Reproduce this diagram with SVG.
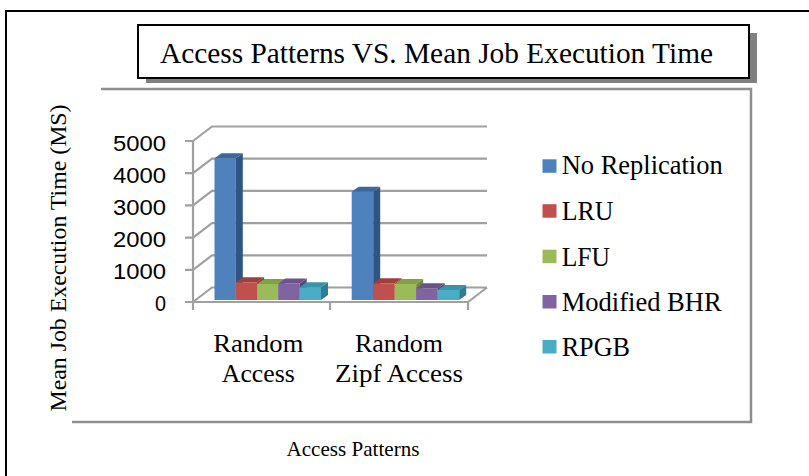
<svg xmlns="http://www.w3.org/2000/svg" width="809" height="476" viewBox="0 0 809 476">
<style>
.serif{font-family:"Liberation Serif","Times New Roman",serif;fill:#000}
.sans{font-family:"Liberation Sans",Arial,sans-serif;fill:#000}
.grid{stroke:#a0a0a0;stroke-width:2.2;fill:none}
.plot{stroke:#8e8e8e;stroke-width:2.5;fill:none}
</style>
<rect x="0" y="0" width="809" height="476" fill="#fff"/>
<g id="frame"><rect x="6" y="11" width="830" height="490" fill="#fff" stroke="#000" stroke-width="2"/></g>
<g id="title">
<rect x="146" y="33" width="611" height="50" fill="#808080"/>
<rect x="138" y="25" width="611" height="53" fill="#fff" stroke="#000" stroke-width="2"/>
<text class="serif" x="160" y="63" font-size="29" textLength="553" lengthAdjust="spacingAndGlyphs">Access Patterns VS. Mean Job Execution Time</text>
</g>
<g id="plot-area"><polyline class="plot" points="101,89 751,89 751,422 72,422"/></g>
<g id="y-axis-title"><text class="serif" transform="translate(66,258) rotate(-90)" text-anchor="middle" font-size="24" textLength="307" lengthAdjust="spacingAndGlyphs">Mean Job Execution Time (MS)</text></g>
<g id="axes">
<polyline class="grid" points="193,141 193,310"/>
<path class="grid" d="M185,141H193L212,126.5H487 M185,173.2H193L212,158.7H487 M185,205.4H193L212,190.9H487 M185,237.6H193L212,223.1H487 M185,269.8H193L212,255.3H487 M185,302H193L212,287.5H487 M193,302H468L487,287.5 M330,302V310 M468,302V310"/>
</g>
<g id="y-labels" class="sans" font-size="22.5" text-anchor="end">
<text x="166" y="150.5" textLength="53" lengthAdjust="spacingAndGlyphs">5000</text>
<text x="166" y="182.5" textLength="53" lengthAdjust="spacingAndGlyphs">4000</text>
<text x="166" y="214.5" textLength="53" lengthAdjust="spacingAndGlyphs">3000</text>
<text x="166" y="246.5" textLength="53" lengthAdjust="spacingAndGlyphs">2000</text>
<text x="166" y="278.5" textLength="53" lengthAdjust="spacingAndGlyphs">1000</text>
<text x="166" y="310.5" textLength="11" lengthAdjust="spacingAndGlyphs">0</text>
</g>
<g id="bars">
<g id="g1-norep"><rect x="214.5" y="158.3" width="21.3" height="141.7" fill="#4F81BD"/><polygon points="235.8,158.3 242.8,153.3 242.8,295 235.8,300" fill="#2F5584"/><polygon points="214.5,158.3 221.5,153.3 242.8,153.3 235.8,158.3" fill="#3C679C"/></g>
<g id="g1-lru"><rect x="235.8" y="282.3" width="21.3" height="17.7" fill="#C0504D"/><polygon points="257.1,282.3 264.1,277.3 264.1,295 257.1,300" fill="#8C3533"/><polygon points="235.8,282.3 242.8,277.3 264.1,277.3 257.1,282.3" fill="#A03E3B"/></g>
<g id="g1-lfu"><rect x="257.1" y="284" width="21.3" height="16" fill="#9BBB59"/><polygon points="278.4,284 285.4,279 285.4,295 278.4,300" fill="#708A3D"/><polygon points="257.1,284 264.1,279 285.4,279 278.4,284" fill="#82A047"/></g>
<g id="g1-bhr"><rect x="278.4" y="283.5" width="21.3" height="16.5" fill="#8064A2"/><polygon points="299.7,283.5 306.7,278.5 306.7,295 299.7,300" fill="#5B4676"/><polygon points="278.4,283.5 285.4,278.5 306.7,278.5 299.7,283.5" fill="#6A528A"/></g>
<g id="g1-rpgb"><rect x="299.7" y="287.3" width="21.3" height="12.7" fill="#4BACC6"/><polygon points="321,287.3 328,282.3 328,295 321,300" fill="#2E7E93"/><polygon points="299.7,287.3 306.7,282.3 328,282.3 321,287.3" fill="#3B93AA"/></g>
<g id="g2-norep"><rect x="351.7" y="191.7" width="21.5" height="108.3" fill="#4F81BD"/><polygon points="373.2,191.7 380.2,186.7 380.2,295 373.2,300" fill="#2F5584"/><polygon points="351.7,191.7 358.7,186.7 380.2,186.7 373.2,191.7" fill="#3C679C"/></g>
<g id="g2-lru"><rect x="373.2" y="283.3" width="21.5" height="16.7" fill="#C0504D"/><polygon points="394.7,283.3 401.7,278.3 401.7,295 394.7,300" fill="#8C3533"/><polygon points="373.2,283.3 380.2,278.3 401.7,278.3 394.7,283.3" fill="#A03E3B"/></g>
<g id="g2-lfu"><rect x="394.7" y="284" width="21.5" height="16" fill="#9BBB59"/><polygon points="416.2,284 423.2,279 423.2,295 416.2,300" fill="#708A3D"/><polygon points="394.7,284 401.7,279 423.2,279 416.2,284" fill="#82A047"/></g>
<g id="g2-bhr"><rect x="416.2" y="288.3" width="21.5" height="11.7" fill="#8064A2"/><polygon points="437.7,288.3 444.7,283.3 444.7,295 437.7,300" fill="#5B4676"/><polygon points="416.2,288.3 423.2,283.3 444.7,283.3 437.7,288.3" fill="#6A528A"/></g>
<g id="g2-rpgb"><rect x="437.7" y="290" width="21.5" height="10" fill="#4BACC6"/><polygon points="459.2,290 466.2,285 466.2,295 459.2,300" fill="#2E7E93"/><polygon points="437.7,290 444.7,285 466.2,285 459.2,290" fill="#3B93AA"/></g>
</g>
<g id="category-labels" class="serif" font-size="26" text-anchor="middle">
<text x="258.3" y="352.3" textLength="90" lengthAdjust="spacingAndGlyphs">Random</text>
<text x="258.3" y="381.7" textLength="73" lengthAdjust="spacingAndGlyphs">Access</text>
<text x="399" y="352.3" textLength="88" lengthAdjust="spacingAndGlyphs">Random</text>
<text x="399" y="381.7" textLength="128" lengthAdjust="spacingAndGlyphs">Zipf Access</text>
</g>
<g id="legend" class="serif" font-size="28">
<g id="leg-norep"><rect x="542.5" y="159.3" width="14" height="13.5" fill="#4F81BD"/><text x="561.7" y="174.3" textLength="161" lengthAdjust="spacingAndGlyphs">No Replication</text></g>
<g id="leg-lru"><rect x="542.5" y="204.2" width="14" height="13.5" fill="#C0504D"/><text x="561.7" y="220" textLength="51.6" lengthAdjust="spacingAndGlyphs">LRU</text></g>
<g id="leg-lfu"><rect x="542.5" y="249.7" width="14" height="13.5" fill="#9BBB59"/><text x="561.7" y="265.7" textLength="48.3" lengthAdjust="spacingAndGlyphs">LFU</text></g>
<g id="leg-bhr"><rect x="542.5" y="295" width="14" height="13.5" fill="#8064A2"/><text x="561.7" y="311" textLength="160" lengthAdjust="spacingAndGlyphs">Modified BHR</text></g>
<g id="leg-rpgb"><rect x="542.5" y="340" width="14" height="13.5" fill="#4BACC6"/><text x="561.7" y="356" textLength="68.3" lengthAdjust="spacingAndGlyphs">RPGB</text></g>
</g>
<g id="x-axis-title"><text class="serif" x="353" y="455.7" font-size="21" text-anchor="middle" textLength="133" lengthAdjust="spacingAndGlyphs">Access Patterns</text></g>
</svg>
